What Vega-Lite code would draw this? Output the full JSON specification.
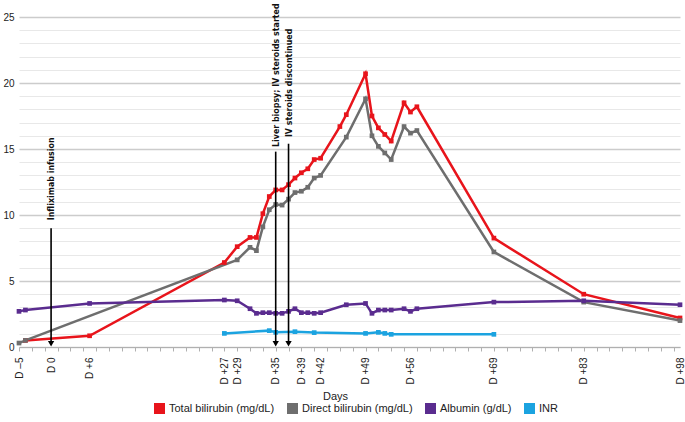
{
  "$schema": "https://vega.github.io/schema/vega-lite/v6.json",
  "autosize": "none",
  "width": 661,
  "height": 330,
  "padding": {"left": 19, "top": 17, "right": 5, "bottom": 75},
  "background": "white",
  "config": {
    "view": {"stroke": null},
    "font": "Liberation Sans",
    "axis": {"labelFont": "Liberation Sans", "titleFont": "Liberation Sans"}
  },
  "datasets": {
    "series": [
      {"d": -4, "v": 0.5, "s": "Total bilirubin (mg/dL)"},
      {"d": 6, "v": 0.85, "s": "Total bilirubin (mg/dL)"},
      {"d": 27, "v": 6.4, "s": "Total bilirubin (mg/dL)"},
      {"d": 29, "v": 7.6, "s": "Total bilirubin (mg/dL)"},
      {"d": 31, "v": 8.3, "s": "Total bilirubin (mg/dL)"},
      {"d": 32, "v": 8.3, "s": "Total bilirubin (mg/dL)"},
      {"d": 33, "v": 10.1, "s": "Total bilirubin (mg/dL)"},
      {"d": 34, "v": 11.4, "s": "Total bilirubin (mg/dL)"},
      {"d": 35, "v": 11.9, "s": "Total bilirubin (mg/dL)"},
      {"d": 36, "v": 11.9, "s": "Total bilirubin (mg/dL)"},
      {"d": 37, "v": 12.3, "s": "Total bilirubin (mg/dL)"},
      {"d": 38, "v": 12.8, "s": "Total bilirubin (mg/dL)"},
      {"d": 39, "v": 13.2, "s": "Total bilirubin (mg/dL)"},
      {"d": 40, "v": 13.5, "s": "Total bilirubin (mg/dL)"},
      {"d": 41, "v": 14.2, "s": "Total bilirubin (mg/dL)"},
      {"d": 42, "v": 14.3, "s": "Total bilirubin (mg/dL)"},
      {"d": 45, "v": 16.7, "s": "Total bilirubin (mg/dL)"},
      {"d": 46, "v": 17.6, "s": "Total bilirubin (mg/dL)"},
      {"d": 49, "v": 20.7, "s": "Total bilirubin (mg/dL)"},
      {"d": 50, "v": 17.5, "s": "Total bilirubin (mg/dL)"},
      {"d": 51, "v": 16.6, "s": "Total bilirubin (mg/dL)"},
      {"d": 52, "v": 16.1, "s": "Total bilirubin (mg/dL)"},
      {"d": 53, "v": 15.6, "s": "Total bilirubin (mg/dL)"},
      {"d": 55, "v": 18.5, "s": "Total bilirubin (mg/dL)"},
      {"d": 56, "v": 17.8, "s": "Total bilirubin (mg/dL)"},
      {"d": 57, "v": 18.2, "s": "Total bilirubin (mg/dL)"},
      {"d": 69, "v": 8.25, "s": "Total bilirubin (mg/dL)"},
      {"d": 83, "v": 4.0, "s": "Total bilirubin (mg/dL)"},
      {"d": 98, "v": 2.2, "s": "Total bilirubin (mg/dL)"},
      {"d": -5, "v": 0.3, "s": "Direct bilirubin (mg/dL)"},
      {"d": -4, "v": 0.5, "s": "Direct bilirubin (mg/dL)"},
      {"d": 29, "v": 6.6, "s": "Direct bilirubin (mg/dL)"},
      {"d": 31, "v": 7.55, "s": "Direct bilirubin (mg/dL)"},
      {"d": 32, "v": 7.3, "s": "Direct bilirubin (mg/dL)"},
      {"d": 33, "v": 9.1, "s": "Direct bilirubin (mg/dL)"},
      {"d": 34, "v": 10.4, "s": "Direct bilirubin (mg/dL)"},
      {"d": 35, "v": 10.8, "s": "Direct bilirubin (mg/dL)"},
      {"d": 36, "v": 10.75, "s": "Direct bilirubin (mg/dL)"},
      {"d": 37, "v": 11.2, "s": "Direct bilirubin (mg/dL)"},
      {"d": 38, "v": 11.7, "s": "Direct bilirubin (mg/dL)"},
      {"d": 39, "v": 11.8, "s": "Direct bilirubin (mg/dL)"},
      {"d": 40, "v": 12.1, "s": "Direct bilirubin (mg/dL)"},
      {"d": 41, "v": 12.8, "s": "Direct bilirubin (mg/dL)"},
      {"d": 42, "v": 13.0, "s": "Direct bilirubin (mg/dL)"},
      {"d": 46, "v": 15.9, "s": "Direct bilirubin (mg/dL)"},
      {"d": 49, "v": 18.8, "s": "Direct bilirubin (mg/dL)"},
      {"d": 50, "v": 16.0, "s": "Direct bilirubin (mg/dL)"},
      {"d": 51, "v": 15.2, "s": "Direct bilirubin (mg/dL)"},
      {"d": 52, "v": 14.7, "s": "Direct bilirubin (mg/dL)"},
      {"d": 53, "v": 14.2, "s": "Direct bilirubin (mg/dL)"},
      {"d": 55, "v": 16.7, "s": "Direct bilirubin (mg/dL)"},
      {"d": 56, "v": 16.2, "s": "Direct bilirubin (mg/dL)"},
      {"d": 57, "v": 16.4, "s": "Direct bilirubin (mg/dL)"},
      {"d": 69, "v": 7.2, "s": "Direct bilirubin (mg/dL)"},
      {"d": 83, "v": 3.4, "s": "Direct bilirubin (mg/dL)"},
      {"d": 98, "v": 2.0, "s": "Direct bilirubin (mg/dL)"},
      {"d": -5, "v": 2.7, "s": "Albumin (g/dL)"},
      {"d": -4, "v": 2.8, "s": "Albumin (g/dL)"},
      {"d": 6, "v": 3.3, "s": "Albumin (g/dL)"},
      {"d": 27, "v": 3.56, "s": "Albumin (g/dL)"},
      {"d": 29, "v": 3.5, "s": "Albumin (g/dL)"},
      {"d": 31, "v": 2.9, "s": "Albumin (g/dL)"},
      {"d": 32, "v": 2.55, "s": "Albumin (g/dL)"},
      {"d": 33, "v": 2.6, "s": "Albumin (g/dL)"},
      {"d": 34, "v": 2.6, "s": "Albumin (g/dL)"},
      {"d": 35, "v": 2.55, "s": "Albumin (g/dL)"},
      {"d": 36, "v": 2.55, "s": "Albumin (g/dL)"},
      {"d": 37, "v": 2.7, "s": "Albumin (g/dL)"},
      {"d": 38, "v": 2.9, "s": "Albumin (g/dL)"},
      {"d": 39, "v": 2.6, "s": "Albumin (g/dL)"},
      {"d": 40, "v": 2.6, "s": "Albumin (g/dL)"},
      {"d": 41, "v": 2.55, "s": "Albumin (g/dL)"},
      {"d": 42, "v": 2.6, "s": "Albumin (g/dL)"},
      {"d": 46, "v": 3.2, "s": "Albumin (g/dL)"},
      {"d": 49, "v": 3.3, "s": "Albumin (g/dL)"},
      {"d": 50, "v": 2.55, "s": "Albumin (g/dL)"},
      {"d": 51, "v": 2.8, "s": "Albumin (g/dL)"},
      {"d": 52, "v": 2.8, "s": "Albumin (g/dL)"},
      {"d": 53, "v": 2.8, "s": "Albumin (g/dL)"},
      {"d": 55, "v": 2.9, "s": "Albumin (g/dL)"},
      {"d": 56, "v": 2.7, "s": "Albumin (g/dL)"},
      {"d": 57, "v": 2.9, "s": "Albumin (g/dL)"},
      {"d": 69, "v": 3.4, "s": "Albumin (g/dL)"},
      {"d": 83, "v": 3.5, "s": "Albumin (g/dL)"},
      {"d": 98, "v": 3.2, "s": "Albumin (g/dL)"},
      {"d": 27, "v": 1.03, "s": "INR"},
      {"d": 34, "v": 1.24, "s": "INR"},
      {"d": 35, "v": 1.11, "s": "INR"},
      {"d": 38, "v": 1.16, "s": "INR"},
      {"d": 41, "v": 1.09, "s": "INR"},
      {"d": 49, "v": 1.03, "s": "INR"},
      {"d": 51, "v": 1.11, "s": "INR"},
      {"d": 52, "v": 1.03, "s": "INR"},
      {"d": 53, "v": 0.96, "s": "INR"},
      {"d": 69, "v": 0.96, "s": "INR"}
    ],
    "notes": [
      {"d": 0, "top": 9.0, "txt": 9.6, "tip": 0.25, "label": "Infliximab infusion"},
      {"d": 35, "top": 14.8, "txt": 15.15, "tip": 0.25, "label": "Liver biopsy; IV steroids started"},
      {"d": 37, "top": 15.4, "txt": 15.9, "tip": 0.25, "label": "IV steroids discontinued"}
    ]
  },
  "layer": [
    {
      "data": {"name": "series"},
      "mark": {"type": "line", "strokeWidth": 2.5, "point": {"shape": "square", "size": 22, "filled": true}},
      "encoding": {
        "x": {
          "field": "d", "type": "quantitative",
          "scale": {"domain": [-5, 98], "nice": false, "zero": false},
          "axis": {
            "tickCount": 200,
            "values": [-5, -3, -1, 0, 1, 3, 5, 6, 7, 9, 11, 13, 15, 17, 19, 21, 23, 25, 27, 29, 31, 33, 35, 37, 39, 41, 42, 43, 45, 47, 49, 51, 53, 55, 56, 57, 59, 61, 63, 65, 67, 69, 71, 73, 75, 77, 79, 81, 83, 85, 87, 89, 91, 93, 95, 97, 98],
            "labelExpr": "indexof([-5, 0, 6, 27, 29, 35, 39, 42, 49, 56, 69, 83, 98], datum.value) < 0 ? '' : (datum.value == 0 ? 'D 0' : (datum.value < 0 ? 'D –' + abs(datum.value) : 'D +' + datum.value))",
            "labelAngle": 270,
            "labelFontSize": 10,
            "labelColor": "#222",
            "labelPadding": 6,
            "labelOverlap": false,
            "labelFlush": false,
            "ticks": true,
            "tickSize": 4,
            "tickColor": "#b0b0b0",
            "tickOpacity": {"condition": {"test": "datum.value % 2 == 0", "value": 0}, "value": 1},
            "domain": true,
            "domainColor": "#b0b0b0",
            "grid": false,
            "title": "Days",
            "titleFontSize": 11,
            "titleFontWeight": "normal",
            "titleColor": "#222",
            "titleX": 316,
            "titleY": 43,
            "titleBaseline": "top"
          }
        },
        "y": {
          "field": "v", "type": "quantitative",
          "scale": {"domain": [0, 25], "nice": false},
          "axis": {
            "tickCount": 200,
            "values": [0, 1, 2, 3, 4, 5, 6, 7, 8, 9, 10, 11, 12, 13, 14, 15, 16, 17, 18, 19, 20, 21, 22, 23, 24, 25],
            "format": "d",
            "labelExpr": "datum.value % 5 == 0 ? datum.label : ''",
            "labelOverlap": false,
            "labelFontSize": 10,
            "labelColor": "#222",
            "labelPadding": 5,
            "ticks": false,
            "domain": false,
            "title": null,
            "grid": true,
            "gridColor": {"condition": {"test": "datum.value % 5 == 0", "value": "#cccccc"}, "value": "#e8e8e8"},
            "gridWidth": {"condition": {"test": "datum.value % 5 == 0", "value": 1.5}, "value": 1}
          }
        },
        "color": {
          "field": "s", "type": "nominal",
          "scale": {
            "domain": ["Total bilirubin (mg/dL)", "Direct bilirubin (mg/dL)", "Albumin (g/dL)", "INR"],
            "range": ["#e8141b", "#6e6e6e", "#5a2c8f", "#1ba3e0"]
          },
          "legend": {
            "orient": "none",
            "direction": "horizontal",
            "legendX": 135,
            "legendY": 386,
            "title": null,
            "symbolType": "square",
            "symbolSize": 121,
            "symbolStrokeWidth": 0,
            "labelFontSize": 11,
            "labelColor": "#222",
            "labelOffset": 4,
            "columnPadding": 12,
            "encode": {"symbols": {"update": {"fill": {"scale": "color", "field": "value"}, "strokeWidth": {"value": 0}}}}
          }
        },
        "order": {"field": "d", "type": "quantitative"}
      }
    },
    {
      "data": {"name": "notes"},
      "mark": {"type": "rule", "color": "black", "strokeWidth": 1.6},
      "encoding": {
        "x": {"field": "d", "type": "quantitative"},
        "y": {"field": "top", "type": "quantitative"},
        "y2": {"field": "tip"}
      }
    },
    {
      "data": {"name": "notes"},
      "mark": {"type": "point", "shape": "triangle-down", "size": 40, "filled": true, "color": "black", "opacity": 1},
      "encoding": {
        "x": {"field": "d", "type": "quantitative"},
        "y": {"field": "tip", "type": "quantitative"}
      }
    },
    {
      "data": {"name": "notes"},
      "mark": {"type": "text", "angle": 270, "align": "left", "baseline": "middle", "fontSize": 8.8, "fontWeight": "bold", "font": "DejaVu Sans Condensed, sans-serif", "color": "#111"},
      "encoding": {
        "x": {"field": "d", "type": "quantitative"},
        "y": {"field": "txt", "type": "quantitative"},
        "text": {"field": "label"}
      }
    }
  ]
}
